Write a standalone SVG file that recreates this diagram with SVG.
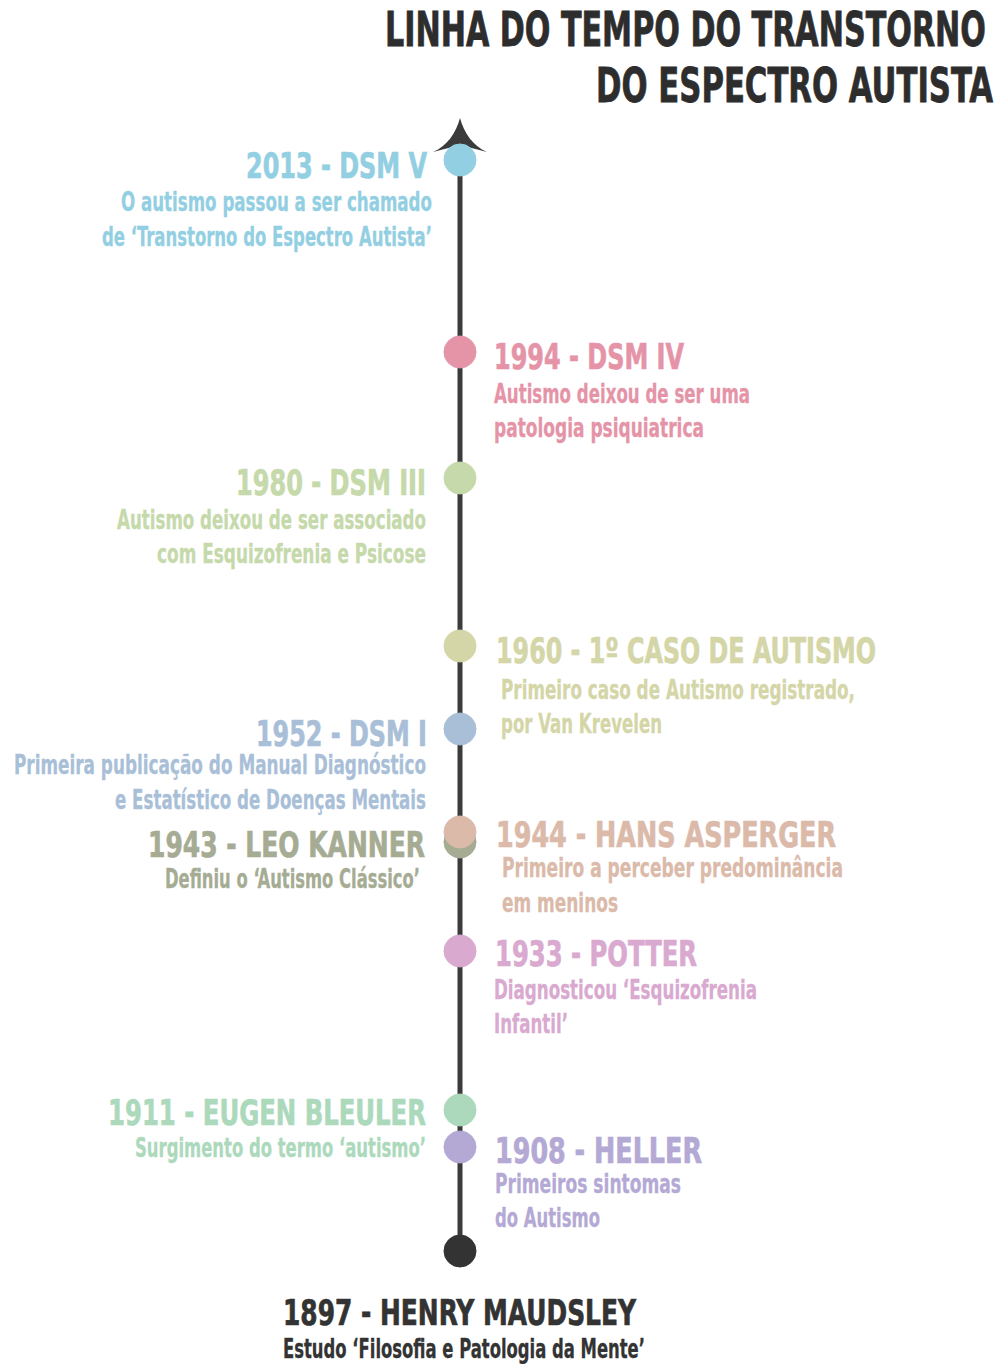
<svg xmlns="http://www.w3.org/2000/svg" width="1001" height="1364" viewBox="0 0 1001 1364">
<style>
text{font-family:"Liberation Sans Narrow","DejaVu Sans Condensed","Roboto",sans-serif;font-weight:bold;font-stretch:condensed}
.title{font-size:48px;fill:#2d2d2d;stroke:#2d2d2d;stroke-width:0.8px}
.h{font-size:36px;stroke-width:0.7px}
.s{font-size:26px;stroke-width:0.3px}
.e{text-anchor:end}
.c2013{fill:#93cfe2;stroke:#93cfe2}.c1994{fill:#e594a8;stroke:#e594a8}.c1980{fill:#c5d9aa;stroke:#c5d9aa}.c1960{fill:#d4d6a7;stroke:#d4d6a7}
.c1952{fill:#a9bfd8;stroke:#a9bfd8}.c1943{fill:#a5ac93;stroke:#a5ac93}.c1944{fill:#dbbaaa;stroke:#dbbaaa}.c1933{fill:#d9a9d0;stroke:#d9a9d0}
.c1911{fill:#acd9bc;stroke:#acd9bc}.c1908{fill:#b4a9d5;stroke:#b4a9d5}.c1897{fill:#333333;stroke:#333333}
circle{stroke:none}
</style>
<rect width="1001" height="1364" fill="#ffffff"/>
<g id="title">
<text class="title" x="385" y="46" textLength="601" lengthAdjust="spacingAndGlyphs">LINHA DO TEMPO DO TRANSTORNO</text>
<text class="title" x="596" y="102" textLength="397" lengthAdjust="spacingAndGlyphs">DO ESPECTRO AUTISTA</text>
</g>
<g id="connectors">
<line x1="460" y1="140" x2="460" y2="1250" stroke="#3b3b3b" stroke-width="5"/>
<path d="M460,118 C456,133 447,146 433,152 L460,145 L487,152 C473,146 464,133 460,118 Z" fill="#3b3b3b"/>
</g>
<g id="n2013">
<circle class="c2013" cx="460" cy="160" r="16"/>
<text class="h c2013 e" x="427" y="178" textLength="181" lengthAdjust="spacingAndGlyphs">2013 - DSM V</text>
<text class="s c2013 e" x="432" y="211" textLength="311" lengthAdjust="spacingAndGlyphs">O autismo passou a ser chamado</text>
<text class="s c2013 e" x="432" y="246" textLength="330" lengthAdjust="spacingAndGlyphs">de ‘Transtorno do Espectro Autista’</text>
</g>
<g id="n1994">
<circle class="c1994" cx="460" cy="352" r="16"/>
<text class="h c1994" x="494" y="369" textLength="190" lengthAdjust="spacingAndGlyphs">1994 - DSM IV</text>
<text class="s c1994" x="494" y="403" textLength="256" lengthAdjust="spacingAndGlyphs">Autismo deixou de ser uma</text>
<text class="s c1994" x="494" y="437" textLength="210" lengthAdjust="spacingAndGlyphs">patologia psiquiatrica</text>
</g>
<g id="n1980">
<circle class="c1980" cx="460" cy="478" r="16"/>
<text class="h c1980 e" x="426" y="495" textLength="190" lengthAdjust="spacingAndGlyphs">1980 - DSM III</text>
<text class="s c1980 e" x="426" y="529" textLength="309" lengthAdjust="spacingAndGlyphs">Autismo deixou de ser associado</text>
<text class="s c1980 e" x="426" y="563" textLength="269" lengthAdjust="spacingAndGlyphs">com Esquizofrenia e Psicose</text>
</g>
<g id="n1960">
<circle class="c1960" cx="460" cy="646" r="16"/>
<text class="h c1960" x="496" y="663" textLength="380" lengthAdjust="spacingAndGlyphs">1960 - 1º CASO DE AUTISMO</text>
<text class="s c1960" x="501" y="699" textLength="354" lengthAdjust="spacingAndGlyphs">Primeiro caso de Autismo registrado,</text>
<text class="s c1960" x="501" y="733" textLength="161" lengthAdjust="spacingAndGlyphs">por Van Krevelen</text>
</g>
<g id="n1952">
<circle class="c1952" cx="460" cy="729" r="16"/>
<text class="h c1952 e" x="427" y="746" textLength="171" lengthAdjust="spacingAndGlyphs">1952 - DSM I</text>
<text class="s c1952 e" x="426" y="774" textLength="412" lengthAdjust="spacingAndGlyphs">Primeira publicação do Manual Diagnóstico</text>
<text class="s c1952 e" x="426" y="809" textLength="311" lengthAdjust="spacingAndGlyphs">e Estatístico de Doenças Mentais</text>
</g>
<g id="n1943">
<circle class="c1943" cx="460" cy="842" r="16"/>
<text class="h c1943 e" x="425" y="857" textLength="277" lengthAdjust="spacingAndGlyphs">1943 - LEO KANNER</text>
<text class="s c1943 e" x="420" y="888" textLength="255" lengthAdjust="spacingAndGlyphs">Definiu o ‘Autismo Clássico’</text>
</g>
<g id="n1944">
<circle class="c1944" cx="460" cy="832" r="16"/>
<text class="h c1944" x="496" y="847" textLength="340" lengthAdjust="spacingAndGlyphs">1944 - HANS ASPERGER</text>
<text class="s c1944" x="502" y="877" textLength="341" lengthAdjust="spacingAndGlyphs">Primeiro a perceber predominância</text>
<text class="s c1944" x="502" y="912" textLength="116" lengthAdjust="spacingAndGlyphs">em meninos</text>
</g>
<g id="n1933">
<circle class="c1933" cx="460" cy="951" r="16"/>
<text class="h c1933" x="495" y="966" textLength="202" lengthAdjust="spacingAndGlyphs">1933 - POTTER</text>
<text class="s c1933" x="494" y="999" textLength="263" lengthAdjust="spacingAndGlyphs">Diagnosticou ‘Esquizofrenia</text>
<text class="s c1933" x="494" y="1033" textLength="74" lengthAdjust="spacingAndGlyphs">Infantil’</text>
</g>
<g id="n1911">
<circle class="c1911" cx="460" cy="1110" r="16"/>
<text class="h c1911 e" x="426" y="1125" textLength="318" lengthAdjust="spacingAndGlyphs">1911 - EUGEN BLEULER</text>
<text class="s c1911 e" x="426" y="1157" textLength="291" lengthAdjust="spacingAndGlyphs">Surgimento do termo ‘autismo’</text>
</g>
<g id="n1908">
<circle class="c1908" cx="460" cy="1147" r="16"/>
<text class="h c1908" x="495" y="1163" textLength="207" lengthAdjust="spacingAndGlyphs">1908 - HELLER</text>
<text class="s c1908" x="495" y="1193" textLength="186" lengthAdjust="spacingAndGlyphs">Primeiros sintomas</text>
<text class="s c1908" x="495" y="1227" textLength="105" lengthAdjust="spacingAndGlyphs">do Autismo</text>
</g>
<g id="n1897">
<circle class="c1897" cx="460" cy="1251" r="16"/>
<text class="h c1897" x="283" y="1325" textLength="353" lengthAdjust="spacingAndGlyphs">1897 - HENRY MAUDSLEY</text>
<text class="s c1897" x="283" y="1358" textLength="362" lengthAdjust="spacingAndGlyphs">Estudo ‘Filosofia e Patologia da Mente’</text>
</g>
</svg>
